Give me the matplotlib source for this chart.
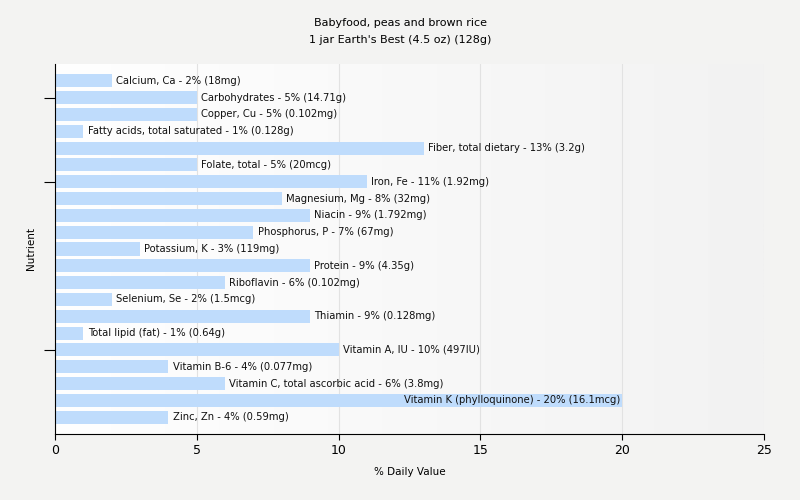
import matplotlib
matplotlib.use("Agg")
import matplotlib.pyplot as plt
import numpy as np
from matplotlib.colors import LinearSegmentedColormap

nutrients = ["Calcium, Ca", "Carbohydrates", "Copper, Cu", "Fatty acids, total saturated",
             "Fiber, total dietary", "Folate, total", "Iron, Fe", "Magnesium, Mg", "Niacin",
             "Phosphorus, P", "Potassium, K", "Protein", "Riboflavin", "Selenium, Se",
             "Thiamin", "Total lipid (fat)", "Vitamin A, IU", "Vitamin B-6",
             "Vitamin C, total ascorbic acid", "Vitamin K (phylloquinone)", "Zinc, Zn"]
dv = [2, 5, 5, 1, 13, 5, 11, 8, 9, 7, 3, 9, 6, 2, 9, 1, 10, 4, 6, 20, 4]
amounts = ["18mg", "14.71g", "0.102mg", "0.128g", "3.2g", "20mcg", "1.92mg", "32mg",
           "1.792mg", "67mg", "119mg", "4.35g", "0.102mg", "1.5mcg", "0.128mg", "0.64g",
           "497IU", "0.077mg", "3.8mg", "16.1mcg", "0.59mg"]

bg = "#f3f3f2"
fig = plt.figure(figsize=(8, 5), dpi=100, facecolor=bg)
ax = fig.add_axes([0.06875, 0.132, 0.886, 0.74])

# plot area: white on the left fading to light grey
grad = np.linspace(0, 1, 256).reshape(1, -1)
cm = LinearSegmentedColormap.from_list("g", ["#ffffff", "#f2f2f2"])
ax.imshow(grad, cmap=cm, aspect="auto", extent=[0, 25, 21, -1], zorder=0)

y = np.arange(len(nutrients))
ax.barh(y, dv, height=0.78, color="#bfdcfc", zorder=2)
for i in range(len(nutrients)):
    lbl = "%s - %d%% (%s)" % (nutrients[i], dv[i], amounts[i])
    if dv[i] >= 15:
        # too long to fit after the bar, goes inside it
        ax.text(dv[i] - 0.05, y[i], lbl, va="center", ha="right", fontsize=7.2,
                color="#111111", zorder=3)
    else:
        ax.text(dv[i] + 0.15, y[i], lbl, va="center", ha="left", fontsize=7.2,
                color="#111111", zorder=3)

ax.set_xlim(0, 25)
ax.set_ylim(21, -1)
ax.set_xticks([0, 5, 10, 15, 20, 25])
ax.tick_params(axis="x", labelsize=9, length=4, color="black")
ax.set_yticks([1, 6, 16])
ax.set_yticklabels([])
ax.tick_params(axis="y", length=8)
ax.grid(axis="x", color="#e2e2e2", linewidth=0.8, zorder=1)
ax.set_axisbelow(True)
for s in ["top", "right"]:
    ax.spines[s].set_visible(False)

ax.set_xlabel("% Daily Value", fontsize=7.5, labelpad=7)
ax.set_ylabel("Nutrient", fontsize=7.5, labelpad=2)
fig.text(0.5, 0.947, "Babyfood, peas and brown rice", ha="center", fontsize=8)
fig.text(0.5, 0.914, "1 jar Earth's Best (4.5 oz) (128g)", ha="center", fontsize=8)

fig.savefig("out.png", dpi=100, facecolor=bg)
